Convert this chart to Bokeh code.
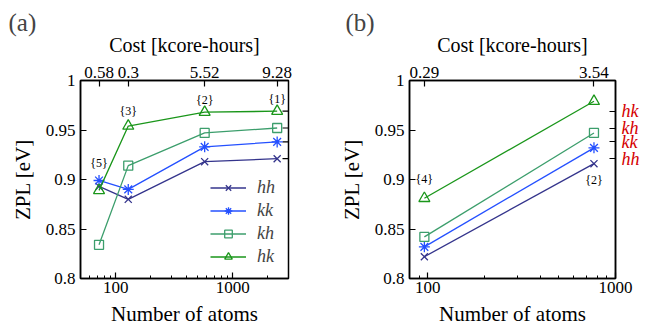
import math
from bokeh.plotting import figure
from bokeh.layouts import row
from bokeh.models import (FixedTicker, LogAxis, LinearAxis, Legend, LegendItem, Range1d)
from bokeh.core.properties import value
from bokeh.embed import file_html
from bokeh.resources import INLINE

# ---------------- data ----------------
series = ["hh", "kk", "kh", "hk"]
colors = {"hh": "#34348c", "kk": "#2450ff", "kh": "#3c9e6c", "hk": "#1a961a"}
markers = {"hh": "x", "kk": "asterisk", "kh": "square", "hk": "triangle"}
msize = {"hh": 10, "kk": 11, "kh": 9, "hk": 11}

atoms_a = [72, 128, 576, 2400]
cost_a = ["0.58", "0.3", "5.52", "9.28"]
hh_a = [0.893, 0.880, 0.918, 0.921]
kk_a = [0.899, 0.890, 0.933, 0.938]
kh_a = [0.834, 0.914, 0.947, 0.952]
hk_a = [0.889, 0.954, 0.968, 0.969]
notes_a = ["{5}", "{3}", "{2}", "{1}"]

atoms_b = [96, 768]
cost_b = ["0.29", "3.54"]
hh_b = [0.822, 0.916]
kk_b = [0.832, 0.932]
kh_b = [0.842, 0.947]
hk_b = [0.881, 0.979]
notes_b = ["{4}", "{2}"]

y_ticks = [0.8, 0.85, 0.9, 0.95, 1.0]
y_tick_labels = ["0.8", "0.85", "0.9", "0.95", "1"]
x_major = [100, 1000]
x_minor_a = [60, 70, 80, 90, 200, 300, 400, 500, 600, 700, 800, 900, 2000, 3000]
x_minor_b = [90, 200, 300, 400, 500, 600, 700, 800, 900]

SERIF = "'Liberation Serif', 'Times New Roman', serif"


def style_axis(ax, labelsize="17px", axlabelsize="20px"):
    ax.axis_line_color = "black"
    ax.axis_line_width = 1.5
    ax.major_tick_line_color = "black"
    ax.major_tick_line_width = 1.2
    ax.major_tick_in = 6
    ax.major_tick_out = 0
    ax.minor_tick_in = 3
    ax.minor_tick_out = 0
    ax.minor_tick_line_color = "black"
    ax.major_label_text_font = SERIF
    ax.major_label_text_font_size = labelsize
    ax.major_label_text_color = "black"
    ax.axis_label_text_font = SERIF
    ax.axis_label_text_font_size = axlabelsize
    ax.axis_label_text_font_style = "normal"
    ax.axis_label_text_color = "black"


def make_panel(tag, atoms, cost, data, xr, x_minor, width, border_left, border_right, right_labels):
    p = figure(width=width, height=332, x_axis_type="log", x_range=Range1d(*xr),
               y_range=Range1d(0.8, 1.0), output_backend="svg", toolbar_location=None,
               min_border_left=border_left, min_border_right=border_right,
               min_border_top=80, min_border_bottom=54)
    p.grid.visible = False
    p.outline_line_color = "black"
    p.outline_line_width = 1.5
    p.background_fill_color = "white"
    p.border_fill_color = "white"

    # bottom axis
    xa = p.xaxis[0]
    style_axis(xa, "17px", "21px")
    xa.ticker = FixedTicker(ticks=x_major, minor_ticks=x_minor)
    xa.major_label_overrides = {t: str(t) for t in x_major}
    xa.axis_label = "Number of atoms"
    xa.major_label_standoff = 3
    xa.axis_label_standoff = 6

    # left axis
    ya = p.yaxis[0]
    style_axis(ya, "17px", "21px")
    ya.ticker = FixedTicker(ticks=y_ticks)
    ya.major_label_overrides = {t: l for t, l in zip(y_ticks, y_tick_labels)}
    ya.minor_tick_line_color = None
    ya.axis_label = "ZPL [eV]"
    ya.major_label_standoff = 5
    ya.axis_label_standoff = 8

    # top axis (cost)
    ta = LogAxis(ticker=FixedTicker(ticks=atoms),
                 major_label_overrides={a: c for a, c in zip(atoms, cost)})
    style_axis(ta, "17px", "20px")
    ta.axis_label = "Cost [kcore-hours]"
    ta.major_label_standoff = 3
    ta.axis_label_standoff = 8
    p.add_layout(ta, "above")

    # right-edge ticks at the converged values of panel (a)
    finals = [data_a[s][-1] for s in series]
    if right_labels:
        ra = LinearAxis(ticker=FixedTicker(ticks=finals))
        style_axis(ra, "18px")
        ra.major_label_overrides = {v: s for v, s in zip(finals, series)}
        ra.major_label_text_color = "#d40000"
        ra.major_label_text_font_style = "italic"
        ra.major_label_standoff = 6
        p.add_layout(ra, "right")
    else:
        p.ray(x=[xr[1]] * len(finals), y=finals, length=6, length_units="screen",
              angle=math.pi, line_color="black", line_width=1.2)

    renderers = {}
    for s in series:
        c = colors[s]
        ln = p.line(atoms, data[s], line_color=c, line_width=1.3)
        mk = p.scatter(atoms, data[s], marker=markers[s], size=msize[s],
                       line_color=c, fill_color=None, line_width=1.3)
        renderers[s] = [ln, mk]

    p.title.text = tag
    p.title.text_font = SERIF
    p.title.text_font_size = "25px"
    p.title.text_font_style = "normal"
    p.title.offset = -(border_left - 8)
    p.title.standoff = -11
    return p, renderers


data_a = {"hh": hh_a, "kk": kk_a, "kh": kh_a, "hk": hk_a}
data_b = {"hh": hh_b, "kk": kk_b, "kh": kh_b, "hk": hk_b}

pa, ra_ = make_panel("(a)", atoms_a, cost_a, data_a, (50, 3000), x_minor_a, 336, 80, 48, False)
pb, rb_ = make_panel("(b)", atoms_b, cost_b, data_b, (80, 1000), x_minor_b, 320, 72, 41, True)

# annotations (a): above the highest point at each size
top_a = [max(data_a[s][i] for s in series) for i in range(len(atoms_a))]
pa.text(atoms_a, top_a, text=notes_a, text_font=value(SERIF), text_font_size="12px",
        text_align="center", text_baseline="middle", y_offset=[-17, -15, -12, -12],
        text_color="black")

# annotations (b)
top_b = [hk_b[0], hh_b[1]]
pb.text(atoms_b, top_b, text=notes_b, text_font=value(SERIF), text_font_size="12px",
        text_align="center", text_baseline="middle", y_offset=[-19, 16], text_color="black")

legend = Legend(items=[LegendItem(label=s, renderers=ra_[s]) for s in series],
                location="bottom_right")
legend.label_text_font = SERIF
legend.label_text_font_style = "italic"
legend.label_text_font_size = "18px"
legend.glyph_width = 36
legend.glyph_height = 19
legend.label_height = 19
legend.spacing = 2
legend.padding = 2
legend.margin = 11
legend.label_standoff = 11
legend.border_line_color = None
legend.background_fill_alpha = 0
pa.add_layout(legend)

layout = row(pa, pb)
open("out.html", "w").write(file_html(layout, INLINE))
